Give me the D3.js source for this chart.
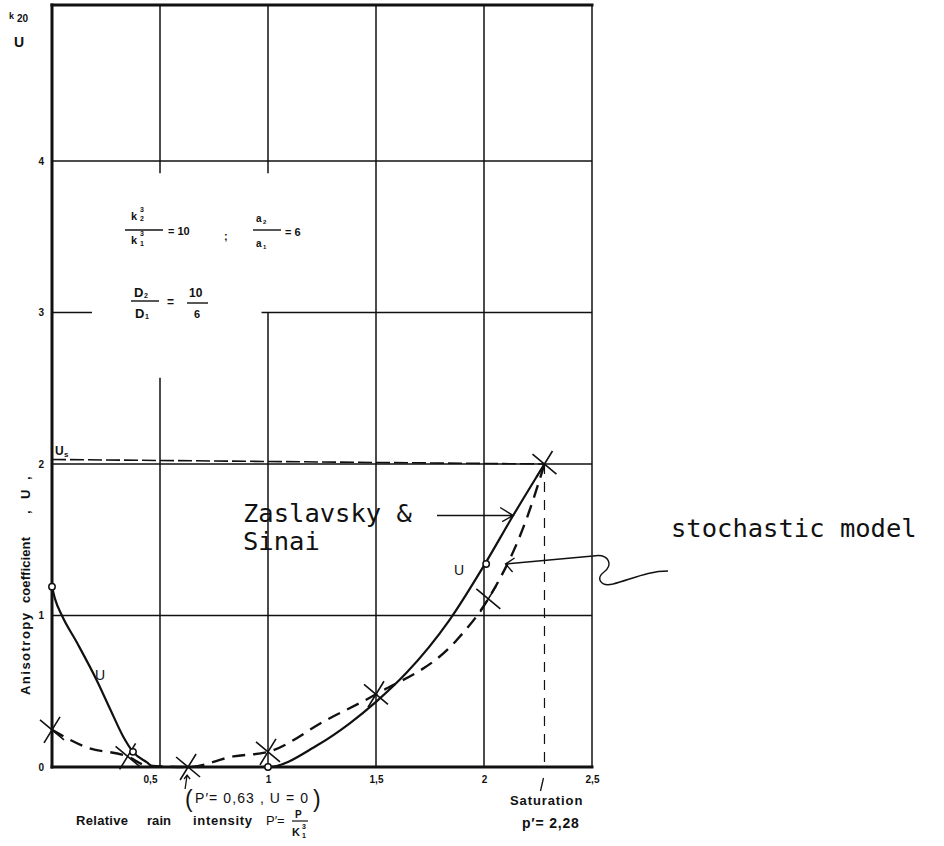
<!DOCTYPE html>
<html><head><meta charset="utf-8">
<script src="https://cdn.jsdelivr.net/npm/d3@7"></script>
<style>
html,body{margin:0;padding:0;background:#fff;}
svg{display:block;}
</style></head><body>
<script>
// Anisotropy coefficient U against relative rain intensity P'
const xTicks = [0.5, 1, 1.5, 2, 2.5];
const xTickLabels = ["0,5", "1", "1,5", "2", "2,5"];
const yTicks = [0, 1, 2, 3, 4];
const yTickLabels = ["0", "1", "2", "3", "4"];

// Zaslavsky & Sinai (solid curve)
const zsX = [0, 0.014, 0.046, 0.116, 0.208, 0.27, 0.33, 0.375, 0.44, 0.47, 1.0, 1.23, 1.38, 1.5, 1.64, 1.84, 2.0, 2.135, 2.28];
const zsY = [1.19, 1.11, 1.0, 0.82, 0.57, 0.38, 0.2, 0.1, 0.03, 0, 0, 0.145, 0.29, 0.43, 0.62, 0.97, 1.33, 1.66, 2.0];
// computed points on that curve (open circles)
const zsPointX = [0, 0.375, 1.0, 2.01];
const zsPointY = [1.19, 0.10, 0.0, 1.34];

// stochastic model (dashed curve) and its computed points (crosses)
const smX = [0, 0.16, 0.35, 0.44, 0.63, 0.84, 1.0, 1.27, 1.5, 1.875, 2.02, 2.2, 2.28];
const smY = [0.245, 0.13, 0.07, 0.01, 0, 0.07, 0.10, 0.31, 0.48, 0.84, 1.11, 1.65, 2.0];
const smPointX = [0, 0.35, 0.63, 1.0, 1.5, 2.02, 2.28];
const smPointY = [0.245, 0.07, 0, 0.10, 0.48, 1.11, 2.0];

// saturation and the U_s level
const saturationP = 2.28;
const saturationU = 2.0;
const usLevel = 2.03;
const zeroP = 0.63;

const W = 944, H = 846;
const ink = "#111";
const svg = d3.select("body").append("svg").attr("width", W).attr("height", H)
  .style("background", "#fff");

const x = d3.scaleLinear().domain([0, 2.5]).range([52, 592]);
const y = d3.scaleLinear().domain([0, 5.03]).range([767, 5]);

const labelFont = "'Liberation Sans', Arial, sans-serif";
const monoFont = "'DejaVu Sans Mono', monospace";

// grid lines (with gaps left for the parameter block)
const vGrid = [
  {p: 0.5, segs: [[0, 2.57], [3.92, 5.03]]},
  {p: 1.0, segs: [[0, 3.0], [3.92, 5.03]]},
  {p: 1.5, segs: [[0, 5.03]]},
  {p: 2.0, segs: [[0, 5.03]]},
  {p: 2.5, segs: [[0, 5.03]]}
];
const hGrid = [
  {u: 1, segs: [[0, 2.5]]},
  {u: 2, segs: [[0, 2.5]]},
  {u: 3, segs: [[0, 0.185], [0.97, 2.5]]},
  {u: 4, segs: [[0, 2.5]]}
];
const grid = svg.append("g").attr("stroke", ink).attr("stroke-width", 1.5);
vGrid.forEach(g => g.segs.forEach(s => grid.append("line")
  .attr("x1", x(g.p)).attr("x2", x(g.p)).attr("y1", y(s[0])).attr("y2", y(s[1]))));
hGrid.forEach(g => g.segs.forEach(s => grid.append("line")
  .attr("x1", x(s[0])).attr("x2", x(s[1])).attr("y1", y(g.u)).attr("y2", y(g.u))));

// frame: heavy left, bottom and top edges
const frame = svg.append("g").attr("stroke", ink).attr("stroke-width", 3).attr("stroke-linecap", "square");
frame.append("line").attr("x1", x(0)).attr("x2", x(0)).attr("y1", y(0)).attr("y2", y(5.03));
frame.append("line").attr("x1", x(0)).attr("x2", x(2.5)).attr("y1", y(0)).attr("y2", y(0));
frame.append("line").attr("x1", x(0)).attr("x2", x(2.5)).attr("y1", y(5.03)).attr("y2", y(5.03));

// axes (labels only)
const yAxis = svg.append("g").attr("transform", `translate(${x(0)},0)`)
  .call(d3.axisLeft(y).tickValues(yTicks).tickSize(0).tickPadding(8)
    .tickFormat((d, i) => yTickLabels[i]));
yAxis.select(".domain").remove();
yAxis.selectAll("text").attr("font-family", labelFont).attr("font-weight", "bold")
  .attr("font-size", 10).attr("fill", ink);

const xAxis = svg.append("g").attr("transform", `translate(0,${y(0)})`)
  .call(d3.axisBottom(x).tickValues(xTicks).tickSize(0).tickPadding(9)
    .tickFormat((d, i) => xTickLabels[i]));
xAxis.select(".domain").remove();
xAxis.selectAll("text").attr("font-family", labelFont).attr("font-weight", "bold")
  .attr("font-size", 10).attr("fill", ink)
  .attr("dx", (d, i) => i === 0 ? -10 : 0);

// U_s level and saturation drop line
svg.append("line").attr("x1", x(0)).attr("x2", x(saturationP))
  .attr("y1", y(usLevel)).attr("y2", y(saturationU))
  .attr("stroke", ink).attr("stroke-width", 1.6).attr("stroke-dasharray", "14 4");
svg.append("line").attr("x1", x(saturationP)).attr("x2", x(saturationP))
  .attr("y1", y(saturationU)).attr("y2", y(0))
  .attr("stroke", ink).attr("stroke-width", 1.2).attr("stroke-dasharray", "10 8");

// curves
const line = d3.line().x(d => x(d[0])).y(d => y(d[1])).curve(d3.curveMonotoneX);
svg.append("path").datum(d3.zip(zsX, zsY)).attr("d", line)
  .attr("fill", "none").attr("stroke", ink).attr("stroke-width", 2.2);
svg.append("path").datum(d3.zip(smX, smY)).attr("d", line)
  .attr("fill", "none").attr("stroke", ink).attr("stroke-width", 2.4)
  .attr("stroke-dasharray", "13 8");

// crosses for the stochastic model
svg.append("g").selectAll("path").data(d3.zip(smPointX, smPointY)).join("path")
  .attr("transform", d => `translate(${x(d[0])},${y(d[1])})`)
  .attr("d", "M-12,-10L12,10M-8,13L8,-13")
  .attr("fill", "none").attr("stroke", ink).attr("stroke-width", 1.6);

// open circles for Zaslavsky & Sinai
svg.append("g").selectAll("circle").data(d3.zip(zsPointX, zsPointY)).join("circle")
  .attr("cx", d => x(d[0])).attr("cy", d => y(d[1])).attr("r", 3.2)
  .attr("fill", "#fff").attr("stroke", ink).attr("stroke-width", 1.5);

// generic text helper
function txt(str, px, py, opts = {}) {
  const t = svg.append("text").attr("x", px).attr("y", py)
    .attr("font-family", opts.family || labelFont)
    .attr("font-weight", opts.weight || "bold")
    .attr("font-size", opts.size || 11)
    .attr("fill", ink)
    .attr("text-anchor", opts.anchor || "start");
  if (opts.spacing) t.attr("letter-spacing", opts.spacing);
  t.text(str);
  return t;
}
function bar(x1, x2, yy, w = 1.4) {
  svg.append("line").attr("x1", x1).attr("x2", x2).attr("y1", yy).attr("y2", yy)
    .attr("stroke", ink).attr("stroke-width", w);
}

// top-left axis caption
txt("k", 9, 19, {size: 9});
txt("20", 17, 22, {size: 10});
txt("U", 14, 47, {size: 14});

// U_s
txt("U", 55, 455, {size: 12});
txt("s", 64, 457, {size: 8});

// curve labels
txt("U", 100, 680, {weight: "normal", size: 14, anchor: "middle"});
txt("U", 459, 575, {weight: "normal", size: 14, anchor: "middle"});

// parameter block
txt("k", 131, 220, {size: 11});
txt("3", 140, 212, {size: 7});
txt("2", 140, 221, {size: 7});
bar(125, 163, 230);
txt("k", 131, 244, {size: 11});
txt("3", 140, 236, {size: 7});
txt("1", 140, 246, {size: 7});
txt("= 10", 168, 235, {size: 11});
txt(";", 224, 240, {size: 11});
txt("a", 256, 222, {size: 10});
txt("2", 263, 224, {size: 6});
bar(253, 281, 230);
txt("a", 256, 247, {size: 10});
txt("1", 263, 249, {size: 6});
txt("= 6", 285, 236, {size: 11});

txt("D", 134, 297, {size: 13});
txt("2", 144, 298, {size: 7});
bar(131, 159, 301);
txt("D", 135, 318, {size: 13});
txt("1", 145, 319, {size: 7});
txt("=", 167, 306, {size: 12});
txt("10", 189, 297, {size: 12});
bar(187, 208, 303);
txt("6", 194, 318, {size: 11});

// axis titles
const yt = svg.append("g").attr("transform", "translate(30,695) rotate(-90)");
[["Anisotropy", 0, 82], ["coefficient", 92, 66], [",", 181, 0], ["U", 196, 0], [",", 215, 0]]
  .forEach(([s, px, len]) => {
    const t = yt.append("text").attr("x", px).attr("y", 0)
      .attr("font-family", labelFont).attr("font-weight", "bold").attr("font-size", 13)
      .attr("fill", ink).text(s);
    if (len) t.attr("textLength", len).attr("lengthAdjust", "spacing");
  });

[["Relative", 76, 52], ["rain", 147, 24], ["intensity", 193, 59]].forEach(([s, px, len]) => {
  txt(s, px, 825, {size: 13}).attr("textLength", len).attr("lengthAdjust", "spacing");
});
txt("P\u2032=", 266, 825, {size: 13, weight: "normal"});
txt("P", 295, 818, {size: 10});
bar(292, 308, 821, 1.2);
txt("K", 292, 836, {size: 11});
txt("3", 302, 829, {size: 7});
txt("1", 302, 838, {size: 7});

// zero point note with small pointer
svg.append("path").attr("d", `M${x(zeroP) - 3},${y(0) + 22}L${x(zeroP) - 1},${y(0) + 8}M${x(zeroP) - 4},${y(0) + 12}L${x(zeroP) - 1},${y(0) + 8}L${x(zeroP) + 2},${y(0) + 12}`)
  .attr("fill", "none").attr("stroke", ink).attr("stroke-width", 1.3);
txt("(", 185, 807, {size: 23, weight: "normal"});
txt("P\u2032= 0,63 , U = 0", 195, 803, {size: 14, weight: "normal"})
  .attr("textLength", 113).attr("lengthAdjust", "spacing");
txt(")", 313, 807, {size: 23, weight: "normal"});

// saturation note
svg.append("path").attr("d", `M${x(saturationP) - 4},${y(0) + 24}L${x(saturationP) - 1},${y(0) + 11}`)
  .attr("fill", "none").attr("stroke", ink).attr("stroke-width", 1.3);
txt("Saturation", 510, 805, {size: 13, spacing: 0.9});
txt("p\u2032= 2,28", 522, 828, {size: 14, spacing: 0.8});

// annotation: Zaslavsky & Sinai
txt("Zaslavsky &", 243, 522, {family: monoFont, weight: "normal", size: 25.5});
txt("Sinai", 243, 550, {family: monoFont, weight: "normal", size: 25.5});
const ax1 = x(2.135), ay1 = y(1.66);
svg.append("path")
  .attr("d", `M437,${ay1}L${ax1},${ay1}M${ax1 - 13},${ay1 - 8}L${ax1},${ay1}L${ax1 - 11},${ay1 + 6}`)
  .attr("fill", "none").attr("stroke", ink).attr("stroke-width", 1.4);

// annotation: stochastic model
txt("stochastic model", 671, 537, {family: monoFont, weight: "normal", size: 25.5});
const tx2 = x(2.1), ty2 = y(1.34);
svg.append("path")
  .attr("d", `M${tx2},${ty2}L593,556C610,553 613,566 604,572C596,578 600,587 613,584C632,579 648,571 668,571`)
  .attr("fill", "none").attr("stroke", ink).attr("stroke-width", 1.4);
svg.append("path")
  .attr("d", `M${tx2 + 9},${ty2 - 6}L${tx2},${ty2}L${tx2 + 7},${ty2 + 8}`)
  .attr("fill", "none").attr("stroke", ink).attr("stroke-width", 1.4);
</script>
</body></html>
